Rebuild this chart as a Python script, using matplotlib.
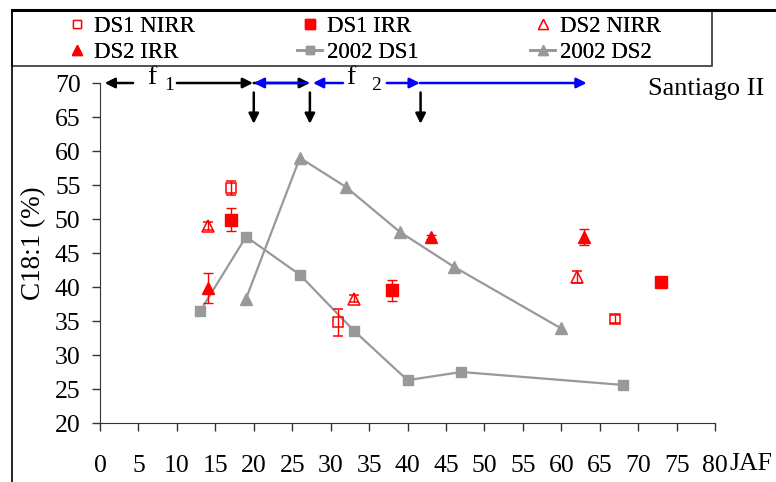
import matplotlib
matplotlib.use("Agg")
import matplotlib.pyplot as plt
from matplotlib.lines import Line2D
from matplotlib.patches import Rectangle

plt.rcParams['font.family'] = ['Liberation Serif', 'DejaVu Serif']

# measured series (JAF, C18:1 %)
ds1_nirr_x = [17, 31, 67]
ds1_nirr_y = [54.6, 34.8, 35.3]
ds1_nirr_err = [1.0, 2.0, 0.6]

ds1_irr_x = [17, 38, 73]
ds1_irr_y = [49.9, 39.5, 40.8]
ds1_irr_err = [1.7, 1.5, 0.3]

ds2_nirr_x = [14, 33, 62]
ds2_nirr_y = [49.0, 38.3, 41.5]
ds2_nirr_err = [0.6, 0.5, 0.9]

ds2_irr_x = [14, 43, 63]
ds2_irr_y = [39.8, 47.3, 47.4]
ds2_irr_err = [2.2, 0.3, 1.2]

# 2002 reference curves
y2002_ds1_x = [13, 19, 26, 33, 40, 47, 68]
y2002_ds1_y = [36.4, 47.4, 41.8, 33.6, 26.3, 27.5, 25.6]
y2002_ds2_x = [19, 26, 32, 39, 46, 60]
y2002_ds2_y = [38.3, 59.0, 54.7, 48.1, 43.0, 33.9]

xticks = list(range(0, 81, 5))
yticks = list(range(20, 71, 5))

red = "#ff0000"
grey = "#999999"
blue = "#0000ff"

fig = plt.figure(figsize=(7.76, 4.82), dpi=100)
ax = fig.add_axes([0.1289, 0.1224, 0.7925, 0.7054])

ax.plot(y2002_ds1_x, y2002_ds1_y, color=grey, lw=1.6, marker='s', ms=6.5, zorder=2)
ax.plot(y2002_ds2_x, y2002_ds2_y, color=grey, lw=1.6, marker='^', ms=8, zorder=2)

ekw = dict(ecolor=red, elinewidth=1, capsize=3.5, capthick=1, ls='none', zorder=3)
ax.errorbar(ds1_nirr_x, ds1_nirr_y, yerr=ds1_nirr_err, marker='s', ms=7.5,
            mfc='none', mec=red, mew=1.1, **ekw)
ax.errorbar(ds1_irr_x, ds1_irr_y, yerr=ds1_irr_err, marker='s', ms=8,
            mfc=red, mec=red, **ekw)
ax.errorbar(ds2_nirr_x, ds2_nirr_y, yerr=ds2_nirr_err, marker='^', ms=8.5,
            mfc='none', mec=red, mew=1.1, **ekw)
ax.errorbar(ds2_irr_x, ds2_irr_y, yerr=ds2_irr_err, marker='^', ms=9,
            mfc=red, mec=red, **ekw)

ax.set_xlim(0, 80)
ax.set_ylim(20, 70)
ax.set_xticks(xticks)
ax.set_yticks(yticks)
ax.tick_params(axis='both', labelsize=18.5, length=6, width=1, color='#333333')
ax.tick_params(axis='x', pad=17)
ax.tick_params(axis='y', pad=8)
for s in ['top', 'right']:
    ax.spines[s].set_visible(False)
for s in ['left', 'bottom']:
    ax.spines[s].set_color('#333333')

# phase arrows along the top
def arrow(x0, x1, y, color):
    ax.annotate('', xy=(x1, y), xytext=(x0, y), annotation_clip=False,
                arrowprops=dict(arrowstyle='-|>', color=color, lw=1.8,
                                mutation_scale=15, shrinkA=0, shrinkB=0))

arrow(4.3, 0.6, 70, 'black')
arrow(10, 19.9, 70, 'black')
arrow(20, 27.3, 70, 'black')
arrow(27.0, 20.0, 70, blue)
arrow(31.6, 27.7, 70, blue)
arrow(37.3, 41.6, 70, blue)
arrow(41.6, 63.3, 70, blue)
for xd in [20, 27.3, 41.7]:
    ax.annotate('', xy=(xd, 64.0), xytext=(xd, 68.6), annotation_clip=False,
                arrowprops=dict(arrowstyle='-|>', color='black', lw=1.8,
                                mutation_scale=15, shrinkA=0, shrinkB=0))
ax.text(6.1, 69.9, 'f', fontsize=20, ha='left', va='baseline')
ax.text(8.4, 69.6, '1', fontsize=14, ha='left', va='center')
ax.text(32.0, 69.9, 'f', fontsize=20, ha='left', va='baseline')
ax.text(35.3, 69.6, '2', fontsize=14, ha='left', va='center')

fig.text(648 / 776, 1 - 89 / 482, 'Santiago II', fontsize=19, ha='left', va='center')
fig.text(34 / 776, 1 - 243 / 482, 'C18:1 (%)', fontsize=19.5, rotation=90,
         ha='center', va='center')
fig.text(729 / 776, 1 - 464 / 482, 'JAF', fontsize=18.5, ha='left', va='center')

# outer frame lines and legend box
fig.add_artist(Line2D([12 / 776, 1], [1 - 10 / 482] * 2, color='black', lw=2.2))
fig.add_artist(Line2D([12 / 776] * 2, [0, 1 - 10 / 482], color='black', lw=1.2))
fig.add_artist(Rectangle((12 / 776, 1 - 66 / 482), 700 / 776, 56 / 482,
                         transform=fig.transFigure, fill=False,
                         ec='#333333', lw=1.2))

h_ds1_nirr = Line2D([], [], ls='none', marker='s', ms=6, mfc='white', mec=red)
h_ds1_irr = Line2D([], [], ls='none', marker='s', ms=7, mfc=red, mec=red)
h_ds2_nirr = Line2D([], [], ls='none', marker='^', ms=6.5, mfc='white', mec=red)
h_ds2_irr = Line2D([], [], ls='none', marker='^', ms=7.5, mfc=red, mec=red)
h_2002_ds1 = Line2D([], [], color=grey, lw=2, marker='s', ms=6)
h_2002_ds2 = Line2D([], [], color=grey, lw=2, marker='^', ms=6.5)

legend_cols = [([h_ds1_nirr, h_ds2_irr], ['DS1 NIRR', 'DS2 IRR'], 64),
               ([h_ds1_irr, h_2002_ds1], ['DS1 IRR', '2002 DS1'], 297),
               ([h_ds2_nirr, h_2002_ds2], ['DS2 NIRR', '2002 DS2'], 530)]
for hs, ls, x0 in legend_cols:
    leg = fig.legend(hs, ls, frameon=False, fontsize=16.5, loc='center left',
                     bbox_to_anchor=(x0 / 776, 1 - 39.5 / 482),
                     handlelength=1.1, handletextpad=0.22, labelspacing=0.2,
                     borderpad=0, borderaxespad=0)
    fig.add_artist(leg)

fig.savefig('out.png', dpi=100)
